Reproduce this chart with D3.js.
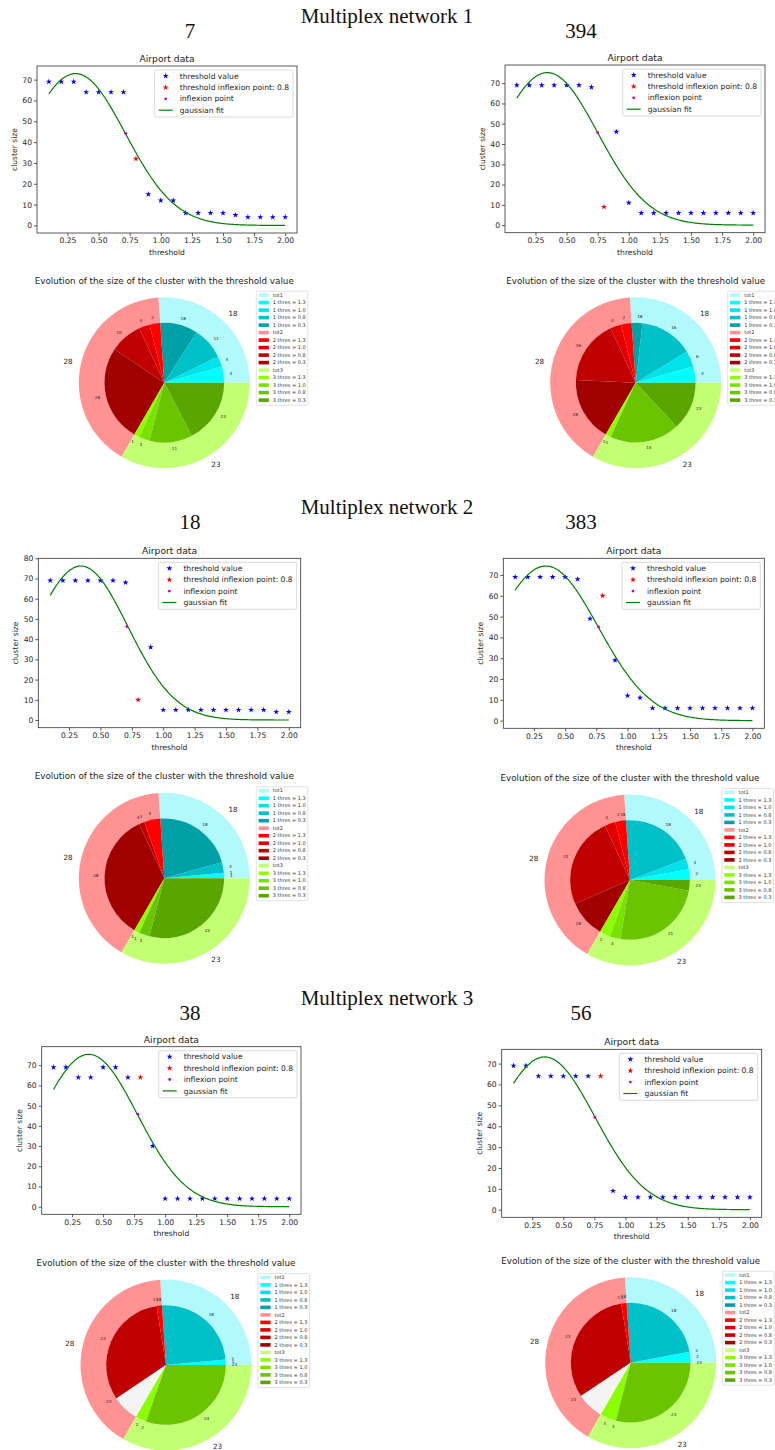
<!DOCTYPE html>
<html><head><meta charset="utf-8">
<script src="https://cdn.jsdelivr.net/npm/d3@7"></script>
<style>body{margin:0;background:#fff} svg{display:block}</style>
</head><body><svg id="c" width="775" height="1450"></svg>
<script>
// ---------------- DATA ----------------
const sectionTitles = ["Multiplex network 1", "Multiplex network 2", "Multiplex network 3"];
const panelIds = [["7", "394"], ["18", "383"], ["38", "56"]];

const thresholds = [0.1,0.2,0.3,0.4,0.5,0.6,0.7,0.8,0.9,1.0,1.1,1.2,1.3,1.4,1.5,1.6,1.7,1.8,1.9,2.0];
const xTickValues = [0.25,0.5,0.75,1.0,1.25,1.5,1.75,2.0];
const thresholdInflexion = 0.8;

const sizes_7   = [69,69,69,64,64,64,64,32,15,12,12,6,6,6,6,5,4,4,4,4];
const sizes_394 = [69,69,69,69,69,69,68,9,46,11,6,6,6,6,6,6,6,6,6,6];
const sizes_18  = [69,69,69,69,69,69,68,10,36,5,5,5,5,5,5,5,5,5,4,4];
const sizes_383 = [69,69,69,69,69,68,49,60,29,12,11,6,6,6,6,6,6,6,6,6];
const sizes_38  = [69,69,64,64,69,69,64,64,30,4,4,4,4,4,4,4,4,4,4,4];
const sizes_56  = [69,69,64,64,64,64,64,64,9,6,6,6,6,6,6,6,6,6,6,6];

// gaussian fit parameters: [amplitude, mean, sigma]
const fit_7   = [72.9, 0.315, 0.400];
const fit_394 = [75.2, 0.345, 0.405];
const fit_18  = [76.2, 0.344, 0.375];
const fit_383 = [74.3, 0.345, 0.420];
const fit_38  = [75.4, 0.384, 0.392];
const fit_56  = [73.2, 0.350, 0.405];

// inflexion points [threshold, cluster size]
const infl_7   = [0.718, 44.2];
const infl_394 = [0.750, 45.6];
const infl_18  = [0.710, 46.2];
const infl_383 = [0.768, 45.0];
const infl_38  = [0.780, 45.8];
const infl_56  = [0.754, 44.3];

// pie data
const groupTotals = [18, 28, 23];
const thresLabels = ["1.3", "1.0", "0.8", "0.3"];
// cumulative cluster sizes per layer at thresholds 1.3, 1.0, 0.8, 0.3
const pie_7   = [[3,5,11,18], [2,4,10,28], [1,3,11,23]];
const pie_394 = [[3,6,16,18], [2,4,16,28], [1,1,14,23]];
const pie_18  = [[1,1,3,18],  [3,3,4,28],  [1,1,3,23]];
const pie_383 = [[2,4,18,18], [2,4,21,28], [2,4,21,23]];
const pie_38  = [[1,1,18,18], [1,1,23,23], [2,2,23,23]];
const pie_56  = [[2,2,18,18], [1,1,23,23], [3,3,23,23]];

// ---------------- STYLE ----------------
const outerColors = ["#b2f9fc", "#ff9292", "#c2ff72"];
const innerColors = [["#00ffff","#00e3ea","#00c1c8","#00a0a7"],
                     ["#ff0000","#e00000","#c00000","#a00000"],
                     ["#8cff00","#7ae200","#6ac400","#5aa600"]];
const gapColor = "#f4f4f4";
const FONT = "'DejaVu Sans', Verdana, sans-serif";
const SERIF = "'Liberation Serif', 'DejaVu Serif', serif";

const svg = d3.select("#c");

const scatterBoxes = [
  {L:37,   R:297,   T:66,     B:233},
  {L:505,  R:765,   T:65,     B:232.7},
  {L:38.3, R:300.7, T:558.3,  B:727.7},
  {L:503.3,R:764.3, T:558.3,  B:728.3},
  {L:41.7, R:301,   T:1046.7, B:1214.3},
  {L:501.7,R:761.7, T:1049.3, B:1217.3}
];
const pieCenters = [[164.3,382.7],[635.7,382.7],[164.3,878.3],[630,880],[166,1365],[630.7,1362.7]];

const allSizes = [sizes_7, sizes_394, sizes_18, sizes_383, sizes_38, sizes_56];
const allFits = [fit_7, fit_394, fit_18, fit_383, fit_38, fit_56];
const allInfl = [infl_7, infl_394, infl_18, infl_383, infl_38, infl_56];
const allPies = [pie_7, pie_394, pie_18, pie_383, pie_38, pie_56];

// ---------------- HEADERS ----------------
const headerBase = [23, 514, 1005];
const idBase = [38, 529, 1020];
sectionTitles.forEach((t, i) => {
  svg.append("text").attr("x", 387).attr("y", headerBase[i]).attr("text-anchor", "middle")
    .attr("font-family", SERIF).attr("font-size", 21).attr("fill", "#111").text(t);
  panelIds[i].forEach((id, j) => {
    svg.append("text").attr("x", j === 0 ? 190 : 581).attr("y", idBase[i]).attr("text-anchor", "middle")
      .attr("font-family", SERIF).attr("font-size", 21).attr("fill", "#111").text(id);
  });
});

// ---------------- SCATTER ----------------
function drawScatter(box, sizes, fit, infl) {
  const g = svg.append("g");
  const xMin = d3.min(thresholds), xMax = d3.max(thresholds);
  const gauss = t => fit[0] * Math.exp(-((t - fit[1]) ** 2) / (2 * fit[2] ** 2));
  const curve = d3.range(0, 201).map(i => { const t = xMin + i * (xMax - xMin) / 200; return [t, gauss(t)]; });
  const xPad = (xMax - xMin) * 0.05;
  const x = d3.scaleLinear().domain([xMin - xPad, xMax + xPad]).range([box.L, box.R]);
  const ys = sizes.concat(curve.map(d => d[1]), [infl[1]]);
  const yMin = d3.min(ys), yMax = d3.max(ys), yPad = (yMax - yMin) * 0.05;
  const y = d3.scaleLinear().domain([yMin - yPad, yMax + yPad]).range([box.B, box.T]);

  const xa = g.append("g").attr("transform", `translate(0,${box.B})`)
    .call(d3.axisBottom(x).tickValues(xTickValues).tickFormat(d3.format(".2f")).tickSize(3).tickPadding(2));
  const ya = g.append("g").attr("transform", `translate(${box.L},0)`)
    .call(d3.axisLeft(y).tickValues(y.ticks(10).filter(v => v % 10 === 0 && v >= 0)).tickSize(3).tickPadding(2));
  [xa, ya].forEach(a => {
    a.select(".domain").remove();
    a.selectAll("line").attr("stroke", "#333").attr("stroke-width", 0.8);
    a.selectAll("text").attr("font-family", FONT).attr("font-size", 7.6).attr("fill", "#262626");
  });
  g.append("rect").attr("x", box.L).attr("y", box.T).attr("width", box.R - box.L).attr("height", box.B - box.T)
    .attr("fill", "none").attr("stroke", "#333").attr("stroke-width", 0.8);

  g.append("text").attr("x", (box.L + box.R) / 2).attr("y", box.T - 4).attr("text-anchor", "middle")
    .attr("font-family", FONT).attr("font-size", 9.2).attr("fill", "#222").text("Airport data");
  g.append("text").attr("x", (box.L + box.R) / 2).attr("y", box.B + 22).attr("text-anchor", "middle")
    .attr("font-family", FONT).attr("font-size", 7.6).attr("fill", "#262626").text("threshold");
  g.append("text").attr("transform", `translate(${box.L - 20},${(box.T + box.B) / 2}) rotate(-90)`)
    .attr("text-anchor", "middle").attr("font-family", FONT).attr("font-size", 7.6).attr("fill", "#262626").text("cluster size");

  const star = d3.symbol(d3.symbolStar, 11);
  const pts = thresholds.map((t, i) => ({t, v: sizes[i]}));
  g.selectAll("path.b").data(pts.filter(d => d.t !== thresholdInflexion)).join("path")
    .attr("d", star).attr("transform", d => `translate(${x(d.t)},${y(d.v)})`).attr("fill", "#0000ff");
  g.append("path").datum(curve).attr("fill", "none").attr("stroke", "#008000").attr("stroke-width", 1.2)
    .attr("d", d3.line().x(d => x(d[0])).y(d => y(d[1])));
  g.selectAll("path.r").data(pts.filter(d => d.t === thresholdInflexion)).join("path")
    .attr("d", star).attr("transform", d => `translate(${x(d.t)},${y(d.v)})`).attr("fill", "#ff0000");
  g.append("circle").attr("cx", x(infl[0])).attr("cy", y(infl[1])).attr("r", 1.4).attr("fill", "#bf00bf");

  // legend
  const rows = [
    {type: "star", color: "#0000ff", text: "threshold value"},
    {type: "star", color: "#ff0000", text: "threshold inflexion point: " + thresholdInflexion},
    {type: "dot", color: "#bf00bf", text: "inflexion point"},
    {type: "line", color: "#008000", text: "gaussian fit"}
  ];
  const lg = g.append("g");
  const box2 = lg.append("rect");
  const texts = lg.selectAll("text").data(rows).join("text")
    .attr("x", 25).attr("y", (d, i) => 6 + i * 11.4).attr("dy", "0.35em")
    .attr("font-family", FONT).attr("font-size", 7.6).attr("fill", "#262626").text(d => d.text);
  let maxW = 0; texts.each(function(){ maxW = Math.max(maxW, this.getComputedTextLength()); });
  const w = maxW + 29, h = 47;
  box2.attr("width", w).attr("height", h).attr("rx", 1.5).attr("fill", "#fff").attr("fill-opacity", 0.85)
    .attr("stroke", "#d0d0d0").attr("stroke-width", 0.8);
  rows.forEach((d, i) => {
    const cy = 6 + i * 11.4;
    if (d.type === "star") lg.append("path").attr("d", star).attr("transform", `translate(11,${cy})`).attr("fill", d.color);
    else if (d.type === "dot") lg.append("circle").attr("cx", 11).attr("cy", cy).attr("r", 1.4).attr("fill", d.color);
    else lg.append("line").attr("x1", 4).attr("x2", 18).attr("y1", cy).attr("y2", cy).attr("stroke", d.color).attr("stroke-width", 1.2);
  });
  lg.attr("transform", `translate(${box.R - 4 - w},${box.T + 4})`);
}

// ---------------- PIE ----------------
function drawPie(cx, cy, cumul) {
  const g = svg.append("g").attr("transform", `translate(${cx},${cy})`);
  const R = 85.5, r = R * 0.7;
  const pie = d3.pie().sort(null).value(d => d.v).startAngle(Math.PI / 2).endAngle(Math.PI / 2 - 2 * Math.PI);

  const outer = groupTotals.map((v, i) => ({v, color: outerColors[i], label: String(v)}));
  const inner = [];
  cumul.forEach((vals, gi) => {
    let prev = 0;
    vals.forEach((c, ti) => { inner.push({v: c - prev, color: innerColors[gi][ti], label: String(c)}); prev = c; });
    if (groupTotals[gi] - prev > 0) inner.push({v: groupTotals[gi] - prev, color: gapColor, label: null});
  });

  const oa = pie(outer), ia = pie(inner);
  g.selectAll("path.o").data(oa).join("path").attr("d", d3.arc().innerRadius(r).outerRadius(R)).attr("fill", d => d.data.color);
  g.selectAll("path.i").data(ia).join("path").attr("d", d3.arc().innerRadius(0).outerRadius(r)).attr("fill", d => d.data.color);

  function place(sel, dist, fs) {
    sel.each(function(d) {
      const a = (d.startAngle + d.endAngle) / 2;
      const px = dist * Math.sin(a), py = -dist * Math.cos(a);
      d3.select(this).attr("x", px).attr("y", py).attr("dy", "0.35em")
        .attr("text-anchor", px > 1e-9 ? "start" : "end")
        .attr("font-family", FONT).attr("font-size", fs).attr("fill", "#222");
    });
  }
  g.selectAll("text.o").data(oa).join("text").text(d => d.data.label).call(place, R * 1.1, 7.2);
  g.selectAll("text.i").data(ia.filter(d => d.data.label !== null)).join("text").text(d => d.data.label).call(place, r * 1.1, 4.2);

  // title
  svg.append("text").attr("x", cx).attr("y", cy - 99).attr("text-anchor", "middle")
    .attr("font-family", FONT).attr("font-size", 8.75).attr("fill", "#222")
    .text("Evolution of the size of the cluster with the threshold value");

  // legend
  const entries = [];
  groupTotals.forEach((t, gi) => {
    entries.push({label: "tot" + (gi + 1), color: outerColors[gi]});
    thresLabels.forEach((th, ti) => entries.push({label: `${gi + 1} thres = ${th}`, color: innerColors[gi][ti]}));
  });
  const lg = svg.append("g").attr("transform", `translate(${cx + 92},${cy - 91.5})`);
  lg.append("rect").attr("width", 51.5).attr("height", 114).attr("rx", 1.2).attr("fill", "#fff")
    .attr("stroke", "#d6d6d6").attr("stroke-width", 0.7);
  entries.forEach((e, i) => {
    const yy = 3.9 + i * 7.5;
    lg.append("rect").attr("x", 2.3).attr("y", yy - 1.8).attr("width", 10.3).attr("height", 3.6).attr("fill", e.color);
    lg.append("text").attr("x", 16.5).attr("y", yy).attr("dy", "0.35em").attr("font-family", FONT)
      .attr("font-size", 5).attr("fill", "#333").text(e.label);
  });
}

scatterBoxes.forEach((b, i) => drawScatter(b, allSizes[i], allFits[i], allInfl[i]));
pieCenters.forEach((c, i) => drawPie(c[0], c[1], allPies[i]));
</script>
</body></html>
